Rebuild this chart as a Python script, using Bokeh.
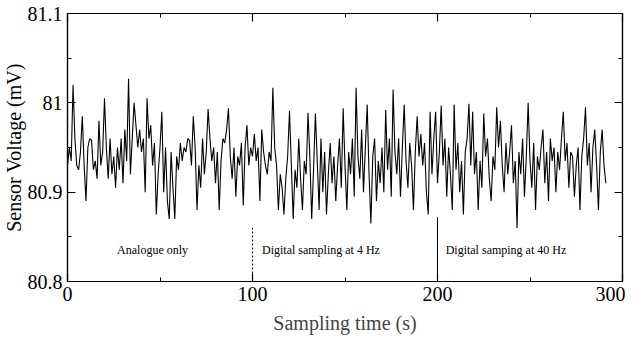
from bokeh.plotting import figure
from bokeh.models import Range1d, FixedTicker, LinearAxis, Title
from bokeh.core.properties import value
from bokeh.embed import file_html
from bokeh.resources import INLINE

# ---- data ----
seg_analogue = [
    80.930, 80.950, 80.935, 81.020, 80.960, 80.930, 80.925, 80.945, 80.985, 80.930,
    80.890, 80.950, 80.960, 80.958, 80.925, 80.935, 80.915, 80.980, 80.930, 80.945,
    81.005, 80.950, 80.915, 80.960, 80.920, 80.940, 80.905, 80.950, 80.925, 80.960,
    80.910, 80.970, 80.935, 81.027, 80.920, 80.960, 81.000, 80.975, 80.950, 80.970,
    80.945, 80.960, 80.900, 81.005, 80.960, 80.975, 80.930, 80.955, 80.875, 80.920,
    80.950, 80.990, 80.900, 80.950, 80.890, 80.870, 80.945, 80.905, 80.870, 80.940,
    80.925, 80.955, 80.935, 80.950, 80.945, 80.960, 80.958, 80.930, 80.985, 80.950,
    80.880, 80.930, 80.905, 80.960, 80.920, 80.945, 80.993, 80.960, 80.935, 80.950,
    80.910, 80.945, 80.880, 80.935, 80.960, 80.955, 80.970, 80.994, 80.940, 80.915,
    80.950, 80.895, 80.940, 80.930, 80.955, 80.885, 80.950, 80.975, 80.930, 80.950,
]
seg_4hz = [
    80.940, 80.965, 80.935, 80.950, 80.890, 80.970, 80.945, 80.930, 80.920, 80.945,
    80.935, 81.017, 80.950, 80.930, 80.880, 80.920, 80.905, 80.875, 80.915, 80.940,
    80.991, 80.930, 80.870, 80.925, 80.905, 80.960, 80.915, 80.880, 80.935, 80.920,
    80.989, 80.940, 80.870, 80.925, 80.988, 80.935, 80.880, 80.960, 80.900, 80.945,
    80.875, 80.920, 80.955, 80.910, 80.940, 80.890, 80.930, 80.960, 80.905, 80.994,
    80.930, 80.880, 80.945, 80.920, 80.960, 80.895, 81.017, 80.940, 80.915, 80.970,
    80.900, 80.950, 80.998, 80.920, 80.865, 80.940, 80.960, 80.890, 80.935, 80.910,
    80.950, 80.900, 80.992, 80.925, 80.960, 80.895, 81.015, 80.945, 80.920, 80.960,
    80.895, 80.950, 80.998, 80.935, 80.905, 80.955, 80.930, 80.880, 80.945, 80.985,
    80.940, 80.965, 80.930, 80.955, 80.900, 80.875, 80.990, 80.920, 80.960, 80.990,
]
seg_40hz = [
    80.910, 80.945, 80.997, 80.930, 80.960, 80.895, 80.950, 80.920, 80.880, 80.998,
    80.925, 80.955, 80.900, 80.935, 80.875, 80.945, 80.960, 80.999, 80.930, 80.990,
    80.920, 80.945, 80.880, 80.935, 80.905, 80.988, 80.940, 80.960, 80.915, 80.890,
    80.940, 80.925, 80.995, 80.950, 80.980, 80.930, 80.900, 80.955, 80.920, 80.945,
    80.975, 80.910, 80.935, 80.860, 80.945, 80.920, 80.960, 80.895, 80.940, 81.000,
    80.935, 80.905, 80.955, 80.880, 80.940, 80.925, 80.950, 80.970, 80.910, 80.945,
    80.890, 80.960, 80.935, 80.950, 80.900, 80.945, 80.925, 80.960, 80.990, 80.935,
    80.955, 80.905, 80.945, 80.940, 80.895, 80.930, 80.950, 80.880, 80.940, 80.960,
    80.995, 80.930, 80.955, 80.900, 80.950, 80.970, 80.930, 80.880, 80.945, 80.970,
    80.930, 80.910,
]
voltage = seg_analogue + seg_4hz + seg_40hz
time_s = list(range(len(voltage)))

x_ticks = [0, 100, 200, 300]
x_minor = [50, 150, 250]
y_ticks = [80.8, 80.9, 81.0, 81.1]
y_minor = [80.85, 80.95, 81.05]

divider_x = [100, 200]
divider_top = [80.86, 80.872]

region_labels = ["Analogue only", "Digital sampling at 4 Hz", "Digital samping at 40 Hz"]
region_label_x = [46, 137, 237]
region_label_y = [80.835, 80.835, 80.835]

FONT = "Liberation Serif"

p = figure(width=625, height=336, x_range=Range1d(0, 300), y_range=Range1d(80.8, 81.1),
           output_backend="svg", toolbar_location=None,
           min_border_left=64, min_border_right=3, min_border_top=13, min_border_bottom=46)
p.xgrid.visible = False
p.ygrid.visible = False
p.outline_line_color = "black"
p.outline_line_width = 1.2
p.background_fill_color = "white"
p.border_fill_color = "white"


def style_axis(ax, ticks, minor, show_labels):
    ax.ticker = FixedTicker(ticks=ticks, minor_ticks=minor)
    ax.major_tick_in = 8
    ax.major_tick_out = 0
    ax.minor_tick_in = 4
    ax.minor_tick_out = 0
    ax.axis_line_color = "black"
    ax.axis_line_width = 1.2
    ax.major_tick_line_color = "black"
    ax.minor_tick_line_color = "black"
    ax.major_tick_line_width = 1.2
    if show_labels:
        ax.major_label_text_font = FONT
        ax.major_label_text_font_size = "20px"
        ax.major_label_text_color = "black"
        ax.major_label_standoff = 5
    else:
        ax.major_label_overrides = {t: "" for t in ticks}
        ax.major_label_standoff = 0


style_axis(p.xaxis[0], x_ticks, x_minor, True)
style_axis(p.yaxis[0], y_ticks, y_minor, True)
p.yaxis[0].major_label_overrides = {81: "81"}
p.xaxis[0].axis_label = "Sampling time (s)"
p.xaxis[0].axis_label_text_font = FONT
p.xaxis[0].axis_label_text_font_size = "20px"
p.xaxis[0].axis_label_text_font_style = "normal"
p.xaxis[0].axis_label_standoff = 8

top_ax = LinearAxis()
style_axis(top_ax, x_ticks, x_minor, False)
p.add_layout(top_ax, "above")
right_ax = LinearAxis()
style_axis(right_ax, y_ticks, y_minor, False)
p.add_layout(right_ax, "right")

p.line(time_s, voltage, line_color="black", line_width=1.1)

p.segment(x0=divider_x[:1], y0=[80.8], x1=divider_x[:1], y1=divider_top[:1],
          line_color="black", line_width=1, line_dash="2 2")
p.segment(x0=divider_x[1:], y0=[80.8], x1=divider_x[1:], y1=divider_top[1:],
          line_color="black", line_width=1)

p.text(x=region_label_x, y=region_label_y, text=region_labels,
       text_font=value(FONT), text_font_size="12px", text_color="black",
       text_align="center", text_baseline="middle")

p.add_layout(Title(text="Sensor Voltage (mV)", align="center", offset=30,
                   text_font=FONT, text_font_size="20px", text_font_style="normal",
                   text_color="black", standoff=0), "left")

open("out.html", "w").write(file_html(p, INLINE))
